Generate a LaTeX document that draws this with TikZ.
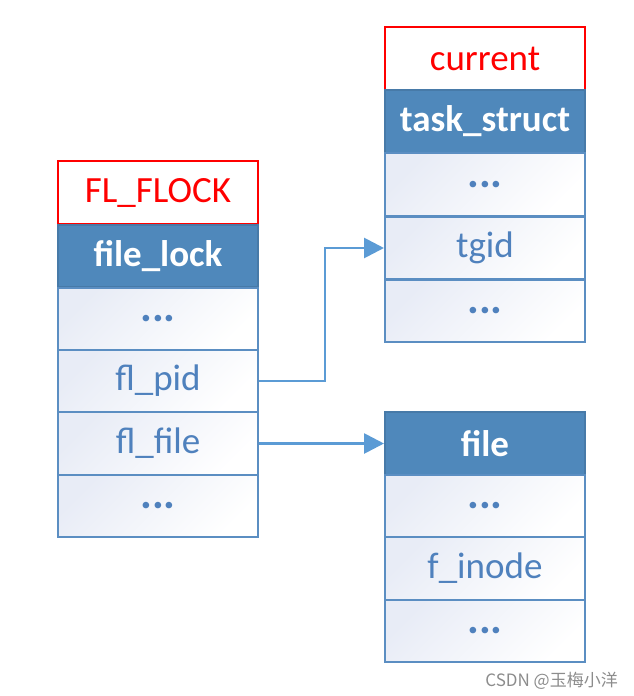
\documentclass[tikz,border=0pt]{standalone}
\usepackage{fontspec}
\setmainfont{Carlito}
\newfontfamily\cjk{Noto Sans CJK SC}
\usetikzlibrary{arrows.meta}
\definecolor{hdr}{HTML}{4F88BB}
\definecolor{rowline}{HTML}{5B8EC2}
\definecolor{rowtext}{HTML}{4F81BD}
\definecolor{arrowc}{HTML}{5B9BD5}
\definecolor{rowfill}{HTML}{E8ECF6}
\tikzset{
  cell/.style={draw=rowline, line width=2pt, minimum width=200pt, minimum height=62.7pt,
    inner sep=0pt, left color=rowfill, right color=white, shading angle=45,
    text=rowtext, font=\fontsize{37}{40}\selectfont},
  hdrcell/.style={draw=hdr!90!black, line width=2pt, minimum width=200pt, minimum height=62.7pt,
    inner sep=0pt, fill=hdr, text=white, font=\fontsize{37}{40}\selectfont\bfseries},
  tag/.style={draw=red, line width=2pt, minimum width=200pt, minimum height=62.7pt,
    inner sep=0pt, fill=white, text=red, font=\fontsize{37}{40}\selectfont},
  dots/.style={font=\fontsize{44}{46}\selectfont\bfseries},
  link/.style={draw=arrowc, line width=2.8pt, -{Triangle[length=20pt,width=20pt]}},
}
\begin{document}
\begin{tikzpicture}[x=1pt,y=-1pt]
\useasboundingbox (0,0) rectangle (634,696);
% left structure
\node[tag]     (flock)  at (158,192.5) {FL\_FLOCK};
\node[hdrcell] (flh)    at (158,256)   {file\_lock};
\node[cell,dots] (fl1)  at (158,319)   {...};
\node[cell]    (flpid)  at (158,381)   {fl\_pid};
\node[cell]    (flfile) at (158,443.5) {fl\_file};
\node[cell,dots] (fl2)  at (158,506)   {...};
% task_struct
\node[tag]     (cur)    at (485,58.5)  {current};
\node[hdrcell] (tsh)    at (485,121.5) {task\_struct};
\node[cell,dots] (ts1)  at (485,184.5) {...};
\node[cell]    (tgid)   at (485,248)   {tgid};
\node[cell,dots] (ts2)  at (485,311)   {...};
% file
\node[hdrcell] (fh)     at (485,443.5) {file};
\node[cell,dots] (f1)   at (485,506)   {...};
\node[cell]    (finode) at (485,568.5) {f\_inode};
\node[cell,dots] (f2)   at (485,631)   {...};
% links
\coordinate (bend) at (325,381);
\draw[link] (flpid.east) -- (bend) |- (tgid.west);
\draw[link] (flfile.east) -- (fh.west);
% watermark
\node[anchor=base east, text=black!45, font=\cjk\fontsize{17}{19}\selectfont, inner sep=0pt] (wm) at (618,686) {CSDN @玉梅小洋};
\end{tikzpicture}
\end{document}
